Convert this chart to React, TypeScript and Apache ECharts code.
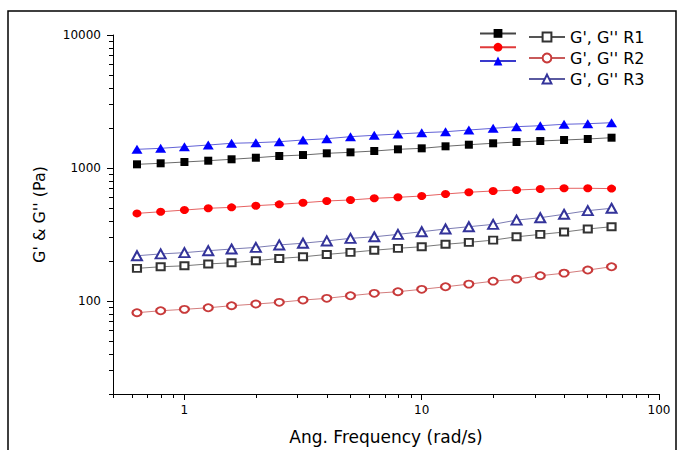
import React, { useEffect, useRef } from "react";
import * as echarts from "echarts";

// Angular frequency (rad/s)
const freq = [0.631, 0.794, 1, 1.26, 1.58, 2, 2.51, 3.16, 3.98, 5.01, 6.31, 7.94, 10, 12.6, 15.8, 20, 25.1, 31.6, 39.8, 50.1, 63.1];

// Storage (G') and loss (G'') moduli, Pa
const gp1 = [1066, 1085, 1110, 1135, 1163, 1195, 1231, 1252, 1290, 1312, 1342, 1382, 1406, 1456, 1497, 1534, 1569, 1596, 1624, 1652, 1690];
const gpp1 = [176, 181, 184, 190, 194, 201, 209, 215, 224, 232, 241, 249, 256, 267, 276, 287, 304, 317, 330, 348, 362];
const gp2 = [456, 469, 483, 498, 506, 521, 533, 548, 565, 575, 592, 602, 616, 638, 657, 672, 683, 695, 704, 704, 700];
const gpp2 = [81.7, 84.5, 86.6, 89, 92.2, 94.9, 97.8, 101.7, 104.8, 109.6, 114.3, 117.5, 122.5, 128, 134, 141, 146, 155, 162, 171, 181];
const gp3 = [1382, 1406, 1446, 1489, 1534, 1550, 1577, 1624, 1661, 1720, 1762, 1801, 1842, 1874, 1931, 1988, 2045, 2080, 2132, 2154, 2191];
const gpp3 = [219, 226, 231, 239, 246, 253, 264, 272, 283, 296, 304, 317, 332, 348, 362, 377, 406, 423, 449, 478, 498];

const seriesNames = ["G' R1", "G'' R1", "G' R2", "G'' R2", "G' R3", "G'' R3"];
const legendLabels = ["G', G'' R1", "G', G'' R2", "G', G'' R3"];

// Axis ticks
const xMajor = [1, 10, 100];
const xMinor = [0.5, 0.6, 0.7, 0.8, 0.9, 2, 3, 4, 5, 6, 7, 8, 9, 20, 30, 40, 50, 60, 70, 80, 90];
const yMajor = [100, 1000, 10000];
const yMinor = [20, 30, 40, 50, 60, 70, 80, 90, 200, 300, 400, 500, 600, 700, 800, 900, 2000, 3000, 4000, 5000, 6000, 7000, 8000, 9000];

const FONT = "DejaVu Sans";

export default function App() {
  const ref = useRef<HTMLDivElement>(null);

  useEffect(() => {
    if (!ref.current) return;
    const chart = echarts.init(ref.current, undefined, { renderer: "svg" });

    const pairs = (vals: number[]) => freq.map((f, i) => [f, vals[i]]);

    const mk = (
      name: string,
      vals: number[],
      symbol: string,
      size: number[],
      color: string,
      lineColor: string,
      empty: boolean
    ) => ({
      name,
      type: "line",
      data: pairs(vals),
      symbol,
      symbolSize: size,
      showSymbol: true,
      xAxisIndex: 0,
      yAxisIndex: 0,
      itemStyle: { color, borderColor: color, borderWidth: empty ? 1 : 0 },
      lineStyle: { color: lineColor, width: 0.8 },
      emphasis: { disabled: true },
    });

    const option: any = {
      animation: false,
      backgroundColor: "#fff",
      textStyle: { fontFamily: FONT },
      grid: { left: 113, right: 22, top: 35, bottom: 56, containLabel: false },
      legend: [
        {
          data: [seriesNames[0], seriesNames[2], seriesNames[4]],
          orient: "vertical",
          left: 474,
          top: 24,
          itemWidth: 36,
          itemHeight: 11,
          itemGap: 5,
          formatter: () => "",
          textStyle: { fontSize: 16, lineHeight: 15, fontFamily: FONT },
          selectedMode: false,
        },
        {
          data: [seriesNames[1], seriesNames[3], seriesNames[5]],
          orient: "vertical",
          left: 523,
          top: 24,
          itemWidth: 36,
          itemHeight: 11,
          itemGap: 5,
          formatter: (name: string) => legendLabels[Math.floor(seriesNames.indexOf(name) / 2)],
          textStyle: { fontSize: 16, lineHeight: 15, color: "#000", fontFamily: FONT },
          selectedMode: false,
        },
      ],
      xAxis: [
        {
          type: "log",
          logBase: 10,
          min: 0.5,
          max: 100,
          position: "bottom",
          name: "Ang. Frequency (rad/s)",
          nameLocation: "middle",
          nameGap: 34,
          nameTextStyle: { fontSize: 17, color: "#000", fontFamily: FONT },
          axisLine: { show: true, lineStyle: { color: "#000", width: 1 } },
          axisTick: { show: true, inside: false, length: 6, customValues: xMajor, lineStyle: { color: "#000" } },
          axisLabel: {
            show: true,
            customValues: xMajor,
            margin: 10,
            fontSize: 12,
            color: "#000",
            fontFamily: FONT,
            formatter: (v: number) => String(Math.round(v)),
          },
          splitLine: { show: false },
          minorTick: { show: false },
        },
        {
          type: "log",
          logBase: 10,
          min: 0.5,
          max: 100,
          position: "top",
          offset: -359,
          axisLine: { show: false },
          axisTick: { show: true, inside: true, length: 4, customValues: xMinor, lineStyle: { color: "#000" } },
          axisLabel: { show: false },
          splitLine: { show: false },
        },
      ],
      yAxis: [
        {
          type: "log",
          logBase: 10,
          min: 20,
          max: 10000,
          position: "left",
          name: "G' & G'' (Pa)",
          nameLocation: "middle",
          nameGap: 66,
          nameRotate: 90,
          nameTextStyle: { fontSize: 16, color: "#000", fontFamily: FONT },
          axisLine: { show: true, lineStyle: { color: "#000", width: 1 } },
          axisTick: { show: true, inside: false, length: 6, customValues: yMajor, lineStyle: { color: "#000" } },
          axisLabel: {
            show: true,
            customValues: yMajor,
            margin: 12,
            fontSize: 12,
            color: "#000",
            fontFamily: FONT,
            formatter: (v: number) => String(Math.round(v)),
          },
          splitLine: { show: false },
        },
        {
          type: "log",
          logBase: 10,
          min: 20,
          max: 10000,
          position: "right",
          offset: -546,
          axisLine: { show: false },
          axisTick: { show: true, inside: true, length: 4, customValues: yMinor, lineStyle: { color: "#000" } },
          axisLabel: { show: false },
          splitLine: { show: false },
        },
      ],
      graphic: [
        {
          type: "rect",
          shape: { x: 8, y: 11, width: 668, height: 445 },
          style: { fill: "none", stroke: "#000", lineWidth: 1.5 },
          silent: true,
          z: 100,
        },
      ],
      series: [
        mk(seriesNames[0], gp1, "rect", [8, 8], "#000000", "#444444", false),
        mk(seriesNames[1], gpp1, "emptyRect", [8, 7], "#333333", "#555555", true),
        mk(seriesNames[2], gp2, "circle", [9, 8], "#ff0000", "#e03a3a", false),
        mk(seriesNames[3], gpp2, "emptyCircle", [9, 7], "#c83a3a", "#c85a5a", true),
        mk(seriesNames[4], gp3, "triangle", [11, 9], "#0000ff", "#3a3acc", false),
        mk(seriesNames[5], gpp3, "emptyTriangle", [10, 9], "#33339a", "#5a5aa0", true),
      ],
    };

    chart.setOption(option);
    return () => chart.dispose();
  }, []);

  return (
    <div
      ref={ref}
      style={{ position: "absolute", left: 0, top: 0, width: 681, height: 450 }}
    />
  );
}
